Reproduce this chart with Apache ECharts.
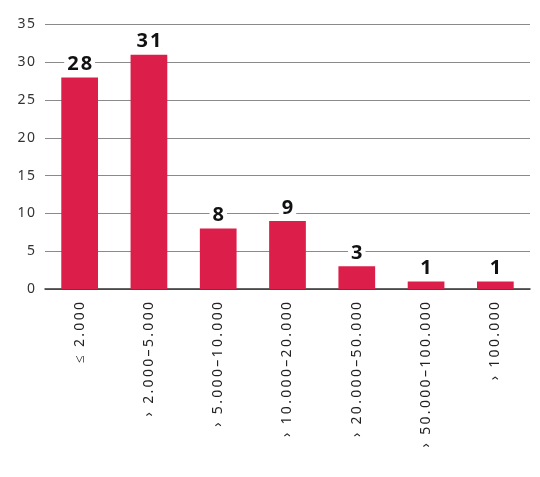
<!DOCTYPE html>
<html><head><meta charset="utf-8">
<script src="https://cdn.jsdelivr.net/npm/echarts@6/dist/echarts.min.js"></script>
<style>html,body{margin:0;padding:0;background:#fff}#c{width:540px;height:477px}</style>
</head><body><div id="c"></div>
<script>
const categories = ['≤ 2.000', '› 2.000–5.000', '› 5.000–10.000', '› 10.000–20.000', '› 20.000–50.000', '› 50.000–100.000', '› 100.000'];
const values = [28, 31, 8, 9, 3, 1, 1];
const yTicks = [0, 5, 10, 15, 20, 25, 30, 35];

// emulate the wide letter spacing of the original typeface
const spaced = (s, sp) => Array.from(String(s)).join(sp);

const chart = echarts.init(document.getElementById('c'));
chart.setOption({
  animation: false,
  grid: { left: 45, right: 10, top: 24.5, bottom: 188 },
  xAxis: {
    type: 'category', data: categories,
    axisLine: { lineStyle: { color: '#333', width: 1.5 } },
    axisTick: { show: false },
    axisLabel: { rotate: 90, fontFamily: 'Noto Sans', fontSize: 14, color: '#222', margin: 13,
      formatter: v => spaced(v, '\u2009') }
  },
  yAxis: {
    type: 'value', min: 0, max: 35, interval: 5,
    axisLine: { show: false }, axisTick: { show: false },
    splitLine: { lineStyle: { color: '#8a8a8a', width: 1 } },
    axisLabel: { fontFamily: 'Noto Sans', fontSize: 14, color: '#333', margin: 10,
      formatter: v => yTicks.includes(v) ? spaced(v, '\u200A') : '' }
  },
  series: [{
    type: 'bar', data: values, barWidth: '53%',
    itemStyle: { color: '#DC1F4A' },
    label: {
      show: true, position: 'top', distance: 3,
      fontFamily: 'Noto Sans', fontSize: 20, fontWeight: 'bold', color: '#111',
      backgroundColor: '#fff', padding: [0, 3],
      formatter: p => spaced(p.value, '\u200A')
    }
  }]
});
</script></body></html>
